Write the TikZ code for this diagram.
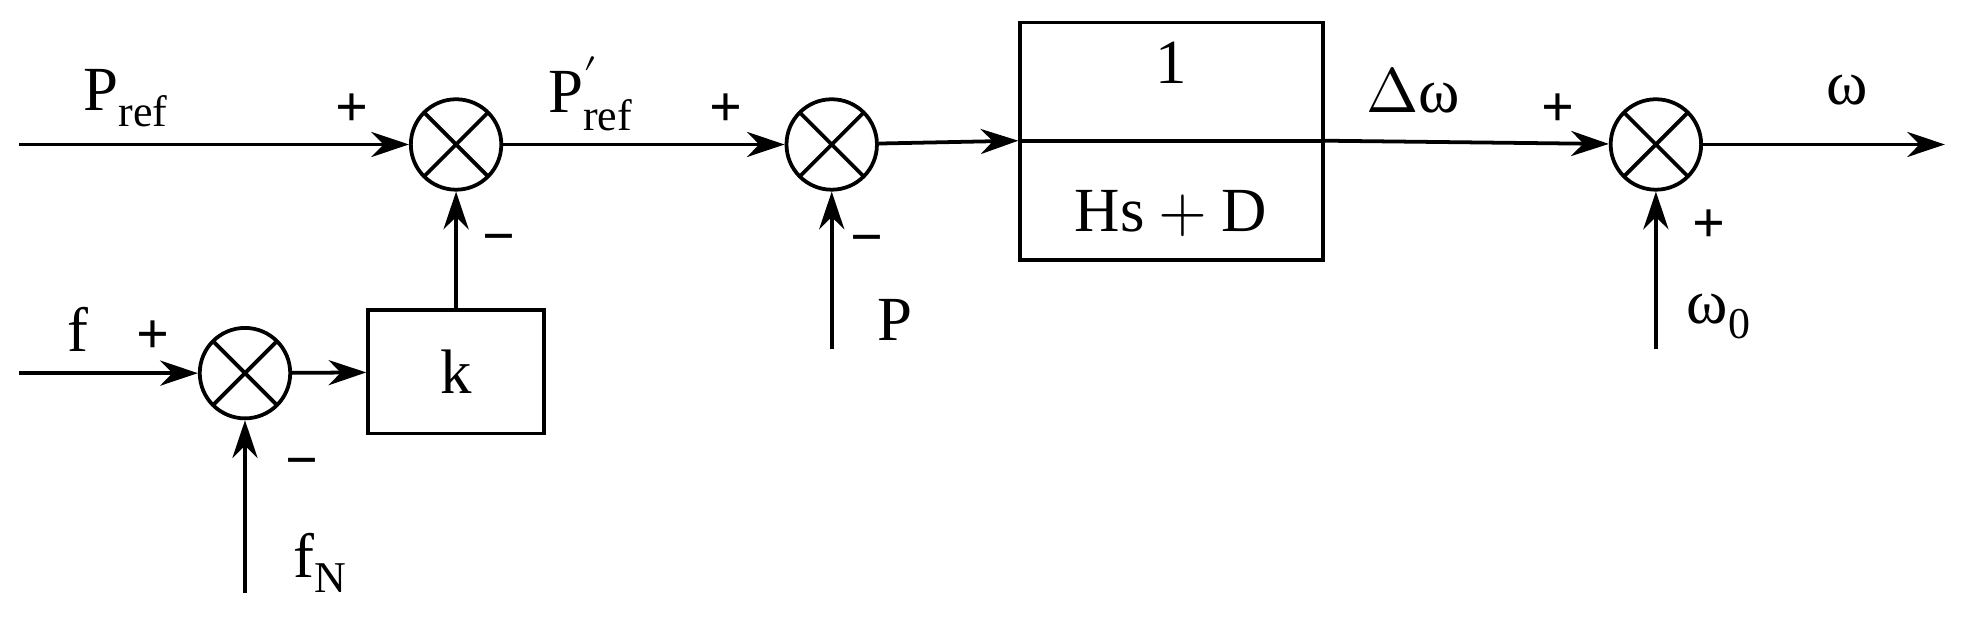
\documentclass[tikz,border=0pt]{standalone}
\usepackage{fontspec}
\setmainfont{Liberation Serif}
\usepackage{unicode-math}
\setmathfont{Latin Modern Math}
\setmathfont[range={it/{latin,Latin,greek}, up/{latin,Latin,greek}, up/num}]{Liberation Serif}
\usetikzlibrary{arrows.meta}
\begin{document}
\begin{tikzpicture}[x=1pt,y=-1pt,line width=3pt,
  sum/.style={circle,draw,minimum size=72pt,inner sep=0pt,
    path picture={\draw[line width=3pt] (path picture bounding box.north west)--(path picture bounding box.south east)
      (path picture bounding box.north east)--(path picture bounding box.south west);}},
  blk/.style={draw,inner sep=0pt},
  arr/.style={-{Stealth[length=30pt,width=20pt]}},
  lbl/.style={font=\fontsize{50}{58}\selectfont,inner sep=0pt},
  sg/.style={font=\fontsize{46}{50}\selectfont\bfseries,inner sep=0pt}]
\useasboundingbox (0,0) rectangle (1568,497);
\node[sum] (s1) at (363,115) {};
\node[sum] (s2) at (662,115) {};
\node[sum] (s3) at (1318,115) {};
\node[sum] (s4) at (195,297) {};
\node[blk,minimum width=241pt,minimum height=189pt] (g) at (932.5,112.5) {};
\draw (g.west |- 0,112) coordinate (gw) -- (g.east |- 0,112) coordinate (ge);
\node[blk,minimum width=140pt,minimum height=98pt] (k) at (363,296) {};
\node[lbl] at (932,50) {$1$};
\node[lbl] at (932,170) {$Hs+D$};
\node[lbl] at (363,296) {$k$};
\coordinate (in1) at (15,115);
\coordinate (in2) at (15,297);
\coordinate (fn) at (195,472);
\coordinate (pin) at (662,278);
\coordinate (w0) at (1318,278);
\coordinate (out) at (1548,115);
\draw[arr] (in1) -- (s1);
\draw[arr] (s1) -- (s2);
\draw[arr] (s2) -- (gw);
\draw[arr] (ge) -- (s3);
\draw[arr] (s3) -- (out);
\draw[arr] (in2) -- (s4);
\draw[arr] (s4) -- (k);
\draw[arr] (k) -- (s1);
\draw[arr] (fn) -- (s4);
\draw[arr] (pin) -- (s2);
\draw[arr] (w0) -- (s3);
\node[lbl] at (100,78) {$P_{\mathrm{ref}}$};
\node[lbl] at (470,75) {$P'_{\mathrm{ref}}$};
\node[lbl] at (1125,72) {$\Delta\omega$};
\node[lbl] at (1470,72) {$\omega$};
\node[lbl] at (62,262) {$f$};
\node[lbl] at (255,448) {$f_N$};
\node[lbl] at (712,255) {$P$};
\node[lbl] at (1368,252) {$\omega_0$};
\node[sg] at (280,88) {+};
\node[sg] at (578,88) {+};
\node[sg] at (1240,88) {+};
\node[sg] at (122,268) {+};
\node[sg] at (1360,180) {+};
\node[sg] at (397,195) {\textminus};
\node[sg] at (240,373) {\textminus};
\node[sg] at (690,196) {\textminus};
\end{tikzpicture}
\end{document}
